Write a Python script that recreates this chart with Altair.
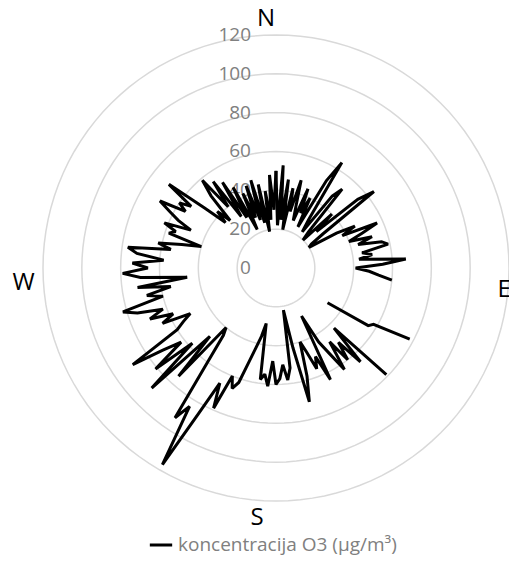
import altair as alt
import pandas as pd

# ---- data ----
angles = list(range(0, 360, 2))  # direction in degrees, clockwise from N
values = [
    50, 22, 53, 25, 46, 20, 42, 30, 47, 33,
    26, 44, 31, 40, 24, 52, 64, 30, 23, 47,
    53, 25, 20, 40, 28, 55, 64, 30, 22, 20,
    36, 46, 38, 57, 48, 40, 52, 44, 56, 59,
    45, 50, 43, 67, 55, 41, 48, 53, 60, None,
    None, None, None, None, None, None, None, None, None, 78,
    58, 56, 32, None, None, None, None, 79, 43, 65,
    50, 60, 47, 63, 52, 44, 28, 64, 50, 56,
    46, 40, 58, 71, 42, 22, 52, 58, 50, 57,
    60, 48, 61, 55, 58, 29, 36, 42, 50, 62,
    66, 60, 79, 66, 85, 117, 84, 93, 60, 44,
    40, 75, 49, 89, 58, 81, 62, 72, 89, 60,
    55, 50, 65, 58, 70, 62, 75, 82, 60, 68,
    55, 72, 46, 70, 79, 66, 74, 58, 72, 77,
    55, 62, 50, 40, 58, 55, 62, 48, 56, 62,
    69, 55, 60, 54, 70, 48, 35, 42, 34, 50,
    59, 40, 55, 32, 52, 30, 47, 22, 42, 28,
    45, 26, 47, 24, 44, 19, 40, 25, 48, 30,
]
series_name = "koncentracija O3 (µg/m³)"
ring_levels = [20, 40, 60, 80, 100, 120]
compass_labels = ["N", "E", "S", "W"]
compass_angles = [0, 90, 180, 270]
compass_radius = [128, 117.5, 129, 130]
compass_dx = [-10, 0, -19, 0]   # pixel nudges of the label centres
compass_dy = [0, 22, 0, 15]

# ---- tables ----
rows = []
seg = 0
for i, (a, v) in enumerate(zip(angles, values)):
    if v is None:
        seg += 1
        continue
    rows.append({"angle": a, "value": v, "seg": seg, "ord": i, "series": series_name})
if values[0] is not None and values[-1] is not None:
    rows.append({"angle": 360, "value": values[0], "seg": seg, "ord": len(values), "series": series_name})
line_df = pd.DataFrame(rows)

ring_angles = list(range(0, 361, 3))
ring_df = pd.DataFrame([{"level": l, "angle": a} for l in ring_levels for a in ring_angles])
lab_df = pd.DataFrame({"level": [0] + ring_levels, "txt": [str(v) for v in [0] + ring_levels]})
comp_df = pd.DataFrame({"txt": compass_labels, "angle": compass_angles, "r": compass_radius,
                        "dx": compass_dx, "dy": compass_dy})

W, H = 501, 557
PX_PER_UNIT = 233 / 120
xs = alt.Scale(domain=[-138.02, 120.0], nice=False, zero=False)
ys = alt.Scale(domain=[-152.96, 133.9], nice=False, zero=False)

def polar(chart, rfield):
    return chart.transform_calculate(
        px=f"datum.{rfield} * sin(datum.angle * PI / 180)",
        py=f"datum.{rfield} * cos(datum.angle * PI / 180)",
    )

rings = polar(alt.Chart(ring_df), "level").mark_line(
    color="#d9d9d9", strokeWidth=1.5
).encode(
    x=alt.X("px:Q", scale=xs, axis=None),
    y=alt.Y("py:Q", scale=ys, axis=None),
    detail="level:N",
    order="angle:Q",
)

labels = alt.Chart(lab_df).transform_calculate(px="0", py="datum.level").mark_text(
    align="right", baseline="middle", dx=-25, fontSize=19, font="Open Sans", color="#808080"
).encode(
    x=alt.X("px:Q", scale=xs, axis=None),
    y=alt.Y("py:Q", scale=ys, axis=None),
    text="txt:N",
)

line = polar(alt.Chart(line_df), "value").mark_line(
    strokeWidth=3, strokeJoin="miter", strokeMiterLimit=2
).encode(
    x=alt.X("px:Q", scale=xs, axis=None),
    y=alt.Y("py:Q", scale=ys, axis=None),
    detail="seg:N",
    order="ord:Q",
    color=alt.Color(
        "series:N",
        scale=alt.Scale(range=["black"]),
        legend=alt.Legend(
            orient="none", legendX=140, legendY=524, title=None,
            symbolType="stroke", symbolStrokeWidth=3, symbolSize=500,
            labelFontSize=19, labelFont="Open Sans", labelColor="#808080",
            labelLimit=0,
        ),
    ),
)

compass = alt.Chart(comp_df).transform_calculate(
    px=f"datum.r * sin(datum.angle * PI / 180) + datum.dx / {PX_PER_UNIT}",
    py=f"datum.r * cos(datum.angle * PI / 180) - datum.dy / {PX_PER_UNIT}",
).mark_text(
    fontSize=24, font="Open Sans", color="black", align="center", baseline="middle"
).encode(
    x=alt.X("px:Q", scale=xs, axis=None),
    y=alt.Y("py:Q", scale=ys, axis=None),
    text="txt:N",
)

chart = alt.layer(rings, labels, line, compass).properties(
    width=W, height=H, autosize=alt.AutoSizeParams(type="none"), padding=0
).configure_view(stroke=None)

chart.save("out.html", embed_options={"renderer": "svg", "actions": False})
